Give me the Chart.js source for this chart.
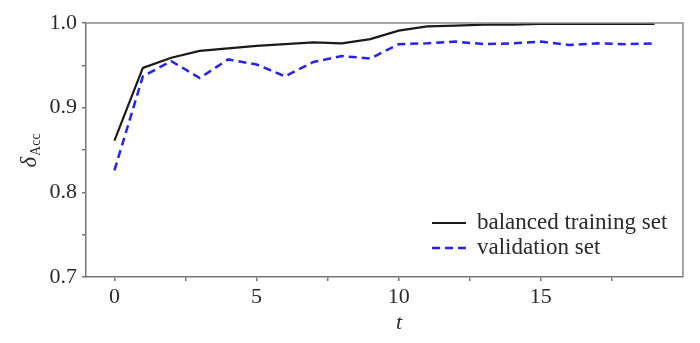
<!DOCTYPE html>
<html>
<head>
<meta charset="utf-8">
<script src="https://cdn.jsdelivr.net/npm/chart.js@4"></script>
<style>
  html, body { margin: 0; padding: 0; background: #fff; }
  #wrap { width: 700px; height: 343px; }
</style>
</head>
<body>
<div id="wrap"><canvas id="grafico"></canvas></div>
<script>
// dados
const epocas = [0, 1, 2, 3, 4, 5, 6, 7, 8, 9, 10, 11, 12, 13, 14, 15, 16, 17, 18, 19];
const treino = [0.861, 0.947, 0.959, 0.967, 0.970, 0.973, 0.975, 0.977, 0.976, 0.981,
                0.991, 0.996, 0.997, 0.998, 0.998, 0.999, 0.999, 0.999, 0.999, 0.999];
const validacao = [0.826, 0.937, 0.955, 0.935, 0.957, 0.951, 0.937, 0.954, 0.961, 0.958,
                   0.975, 0.976, 0.978, 0.975, 0.976, 0.978, 0.974, 0.976, 0.975, 0.976];
const ticksX = [0, 2.5, 5, 7.5, 10, 12.5, 15, 17.5];
const ticksY = [0.7, 0.75, 0.8, 0.85, 0.9, 0.95, 1.0];
const nomes = ['balanced training set', 'validation set'];

const fonte = '"Liberation Serif", "Times New Roman", serif';

// moldura, legenda e títulos dos eixos
const extras = {
    id: 'extras',
    afterDraw(chart) {
        const c = chart.ctx;
        const a = chart.chartArea;
        c.save();
        // bordas de cima e da direita
        c.strokeStyle = '#8a8a8a';
        c.lineWidth = 1.5;
        c.beginPath();
        c.moveTo(a.left, a.top);
        c.lineTo(a.right, a.top);
        c.lineTo(a.right, a.bottom);
        c.stroke();

        // legenda
        c.font = '23px ' + fonte;
        c.fillStyle = '#2a2a2a';
        c.textBaseline = 'middle';
        const ds = chart.data.datasets;
        const lx = 432, ly = [223, 248];
        ds.forEach((d, i) => {
            c.strokeStyle = d.borderColor;
            c.lineWidth = d.borderWidth;
            c.setLineDash(d.borderDash || []);
            c.beginPath();
            c.moveTo(lx, ly[i]);
            c.lineTo(lx + 34, ly[i]);
            c.stroke();
            c.setLineDash([]);
            c.fillText(d.label, lx + 45, ly[i]);
        });

        // título eixo x
        c.font = 'italic 22px ' + fonte;
        c.textAlign = 'center';
        c.fillText('t', 399, 323);

        // título eixo y: delta com subscrito
        c.translate(30, 151);
        c.rotate(-Math.PI / 2);
        c.textAlign = 'left';
        c.textBaseline = 'alphabetic';
        c.font = 'italic 23px ' + fonte;
        const wD = c.measureText('δ').width;
        const wS = (() => { c.font = '14px ' + fonte; return c.measureText('Acc').width; })();
        const x0 = -(wD + wS) / 2;
        c.font = 'italic 23px ' + fonte;
        c.fillText('δ', x0, 6);
        c.font = '14px ' + fonte;
        c.fillText('Acc', x0 + wD + 1, 10);
        c.restore();
    }
};

const ctx = document.getElementById('grafico').getContext('2d');
new Chart(ctx, {
    type: 'line',
    data: {
        labels: epocas,
        datasets: [{
            label: nomes[0],
            data: epocas.map((t, i) => ({ x: t, y: treino[i] })),
            borderColor: '#1a1a1a',
            borderWidth: 2.2,
            pointRadius: 0,
            tension: 0,
            fill: false
        }, {
            label: nomes[1],
            data: epocas.map((t, i) => ({ x: t, y: validacao[i] })),
            borderColor: 'rgb(35,35,245)',
            borderWidth: 2.5,
            borderDash: [8, 5],
            pointRadius: 0,
            tension: 0,
            fill: false
        }]
    },
    options: {
        responsive: true,
        maintainAspectRatio: false,
        animation: false,
        layout: { padding: { top: 23, right: 17, left: 0, bottom: 0 } },
        plugins: { legend: { display: false }, tooltip: { enabled: false } },
        scales: {
            x: {
                type: 'linear',
                min: -1,
                max: 20,
                afterBuildTicks: s => { s.ticks = ticksX.map(v => ({ value: v })); },
                afterFit: s => { s.height = 66; },
                grid: { drawOnChartArea: false, tickLength: 4, color: '#777', lineWidth: 1.5 },
                border: { color: '#777', width: 1.5 },
                ticks: {
                    color: '#2a2a2a',
                    padding: 3,
                    font: { family: fonte, size: 22 },
                    callback: v => (v % 5 === 0 ? String(v) : '')
                }
            },
            y: {
                min: 0.7,
                max: 1.0,
                afterBuildTicks: s => { s.ticks = ticksY.map(v => ({ value: v })); },
                afterFit: s => { s.width = 86; },
                grid: { drawOnChartArea: false, tickLength: 4, color: '#777', lineWidth: 1.5 },
                border: { color: '#777', width: 1.5 },
                ticks: {
                    color: '#2a2a2a',
                    padding: 5,
                    font: { family: fonte, size: 22 },
                    callback: v => (Math.round(v * 100) % 10 === 0 ? v.toFixed(1) : '')
                }
            }
        }
    },
    plugins: [extras]
});
</script>
</body>
</html>
